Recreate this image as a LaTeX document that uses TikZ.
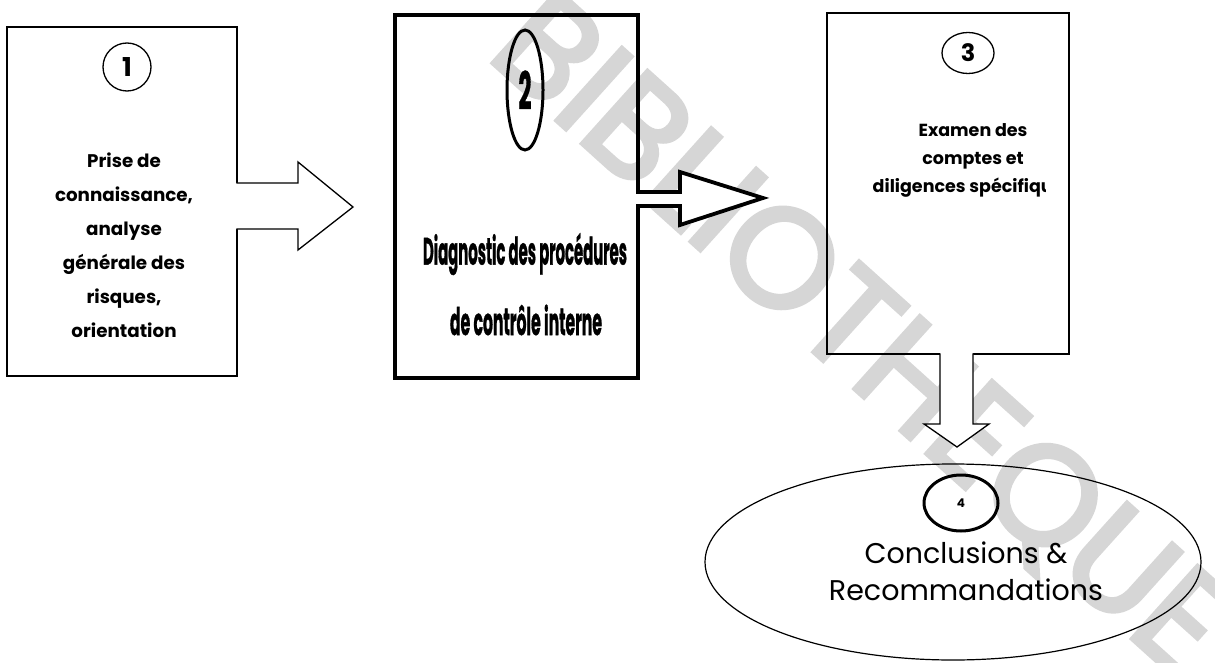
\documentclass[tikz,border=0pt]{standalone}
\usepackage{fontspec}
\usepackage{graphicx}
\setmainfont{Poppins}
\newfontfamily\wmfont{Poppins}[FakeBold=3.3]
\newfontfamily\condfont{Poppins}[FakeBold=1.2]
\usetikzlibrary{calc,shapes.geometric}
\begin{document}
\begin{tikzpicture}[x=1pt,y=-1pt,
  box/.style={draw, rectangle, line width=1.3pt, inner sep=0pt, outer sep=0pt},
  thickbox/.style={draw, rectangle, line width=3.8pt, inner sep=0pt, outer sep=0pt},
  thinarrow/.style={draw, line width=1.3pt, fill=white, line join=miter},
  thickarrow/.style={draw, line width=3.8pt, fill=white, line join=miter},
  numbox/.style={draw, ellipse, inner sep=0pt, outer sep=0pt},
  btext/.style={align=center, inner sep=0pt},
  wmark/.style={text=black!16, inner sep=0pt}
]
\useasboundingbox (0,0) rectangle (1215,663);
\fill[white] (0,0) rectangle (1215,663);

% watermark
\node[wmark, rotate=-42, font=\wmfont\fontsize{140}{140}\selectfont] (wm) at (858,338) {BIBLIOTHEQUE};

% box 1
\node[box, minimum width=230pt, minimum height=349pt] (b1) at (122,201.5) {};
\node[numbox, line width=1.3pt, minimum width=48pt, minimum height=48pt, font=\bfseries\fontsize{26}{26}\selectfont] (c1) at (127,67) {1};
\node[btext, font=\bfseries\fontsize{18.3}{34}\selectfont] (t1) at (124,245) {Prise de\\connaissance,\\analyse\\générale des\\risques,\\orientation};

% box 2
\node[thickbox, minimum width=243pt, minimum height=363pt] (b2) at (516.5,196.5) {};
\node[numbox, line width=3pt, minimum width=36pt, minimum height=120pt] (c2) at (525,90) {\resizebox{13pt}{\height}{\condfont\bfseries\fontsize{52}{52}\selectfont 2}};
\node[btext] (t2a) at (525,254) {\resizebox{204pt}{\height}{\condfont\bfseries\fontsize{38}{40}\selectfont Diagnostic des procédures}};
\node[btext] (t2b) at (526,320) {\resizebox{152pt}{\height}{\condfont\bfseries\fontsize{38}{40}\selectfont de contrôle interne}};

% box 3
\node[box, minimum width=242pt, minimum height=341pt] (b3) at (948,183.5) {};
\node[numbox, line width=1.3pt, minimum width=52pt, minimum height=41pt, font=\bfseries\fontsize{24}{24}\selectfont] (c3) at (968,53) {3};
\begin{scope}
  \clip (827,13) rectangle (1045,354);
  \node[btext, font=\bfseries\fontsize{17.5}{28}\selectfont] (t3) at (973,160) {Examen des\\comptes et\\diligences spécifiques};
\end{scope}

% ellipse 4
\node[numbox, line width=1.2pt, minimum width=496pt, minimum height=196pt] (e4) at (953,562) {};
\node[numbox, line width=3pt, minimum width=74pt, minimum height=56pt, font=\bfseries\fontsize{12}{12}\selectfont] (c4) at (961,503) {4};
\node[btext, font=\fontsize{28.5}{37}\selectfont] (t4) at (966,571) {Conclusions \&\\Recommandations};

% arrow 1 -> 2
\coordinate (a1tip) at (353,207);
\fill[white] ($(b1.east)+(-2,-18.5)$) rectangle ($(b1.east)+(2,27.5)$);
\draw[thinarrow] ($(b1.east)+(-0.65,-18.5)$) -- ($(b1.east)+(61,-18.5)$) -- ($(b1.east)+(61,-39.5)$) -- (a1tip) -- ($(b1.east)+(61,48.5)$) -- ($(b1.east)+(61,27.5)$) -- ($(b1.east)+(-0.65,27.5)$);

% arrow 2 -> 3
\coordinate (a2tip) at (763,198);
\fill[white] ($(b2.east)+(-3,-4.5)$) rectangle ($(b2.east)+(3,9.5)$);
\draw[thickarrow] ($(b2.east)+(-1.9,-4.5)$) -- ($(b2.east)+(42,-4.5)$) -- ($(b2.east)+(42,-24.5)$) -- (a2tip) -- ($(b2.east)+(42,28.5)$) -- ($(b2.east)+(42,9.5)$) -- ($(b2.east)+(-1.9,9.5)$);

% arrow 3 -> 4
\coordinate (a3tip) at (957,447);
\fill[white] ($(b3.south)+(-8,-2)$) rectangle ($(b3.south)+(25,2)$);
\draw[thinarrow] ($(b3.south)+(-8,-0.65)$) -- ($(b3.south)+(-8,70)$) -- ($(b3.south)+(-24,70)$) -- (a3tip) -- ($(b3.south)+(41,70)$) -- ($(b3.south)+(25,70)$) -- ($(b3.south)+(25,-0.65)$);
\end{tikzpicture}
\end{document}
